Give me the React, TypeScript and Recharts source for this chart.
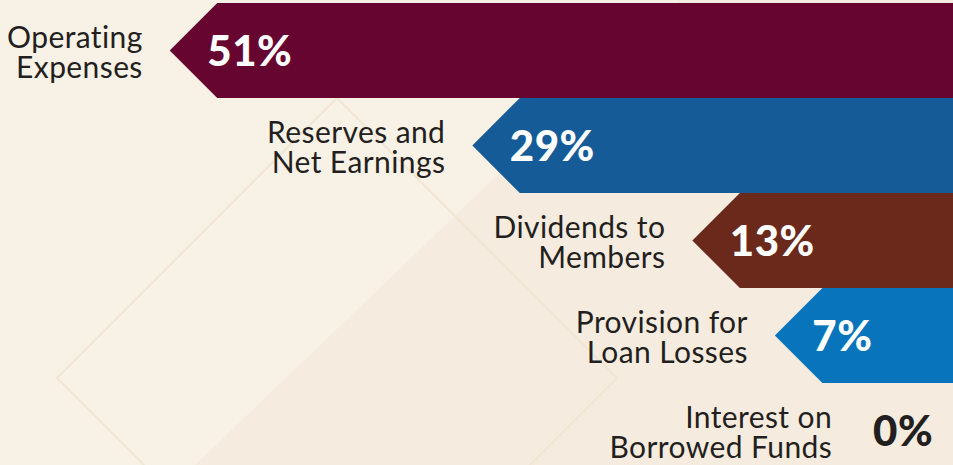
import { BarChart, Bar, XAxis, YAxis } from 'recharts';

// Where each dollar of income goes
const categories = [
  'Operating Expenses',
  'Reserves and Net Earnings',
  'Dividends to Members',
  'Provision for Loan Losses',
  'Interest on Borrowed Funds',
];
const labelLines = [
  ['Operating', 'Expenses'],
  ['Reserves and', 'Net Earnings'],
  ['Dividends to', 'Members'],
  ['Provision for', 'Loan Losses'],
  ['Interest on', 'Borrowed Funds'],
];
const shares = [51, 29, 13, 7, 0];
const barColors = ['#670531', '#155b97', '#6b291b', '#0774bc', '#0774bc'];

// axis starts a little below zero so a 0% bar still has a stub on the right
const AXIS_MIN = -2.5;
const AXIS_MAX = 66.8;

const TEXT = '#231f20';
const FONT = 'Lato, "Open Sans", sans-serif';

const data = categories.map((name, i) => ({
  name,
  lines: labelLines[i],
  share: shares[i],
  color: barColors[i],
}));

const ArrowBar = (props: any) => {
  const { x, y, width, height, payload } = props;
  const left = Math.min(x, x + width);
  const right = Math.max(x, x + width);
  const cy = y + height / 2;
  const tip = left - height / 2;
  const zero = payload.share === 0;
  const pctX = zero ? tip + 2 : left - 10;
  const labelX = zero ? tip - 39 : tip - 27;
  return (
    <g>
      {!zero && (
        <polygon
          points={`${tip},${cy} ${left},${y} ${right},${y} ${right},${y + height} ${left},${y + height}`}
          fill={payload.color}
        />
      )}
      <text
        x={pctX}
        y={cy + 15}
        fill={zero ? TEXT : '#ffffff'}
        fontSize={42}
        fontWeight={900}
        fontFamily={FONT}
        letterSpacing={0.5}
      >
        {payload.share}%
      </text>
      <text textAnchor="end" fontSize={30} fill={TEXT} fontFamily={FONT} letterSpacing={0.4}>
        <tspan x={labelX} y={cy - 3}>{payload.lines[0]}</tspan>
        <tspan x={labelX} y={cy + 27}>{payload.lines[1]}</tspan>
      </text>
    </g>
  );
};

export default function App() {
  return (
    <div
      style={{
        position: 'fixed',
        left: 0,
        top: 0,
        width: 953,
        height: 465,
        overflow: 'hidden',
        background: '#f8f1e6',
      }}
    >
      {/* faint diamond decoration behind the chart */}
      <svg width={953} height={465} style={{ position: 'absolute', left: 0, top: 0 }}>
        <polygon points="195,465 680,0 953,0 953,465" fill="#f5ecdf" />
        <polygon
          points="337,98 617,378 337,658 57,378"
          fill="none"
          stroke="#f1e6d2"
          strokeWidth={2}
        />
      </svg>
      <div style={{ position: 'absolute', left: 0, top: 0 }}>
        <BarChart
          width={953}
          height={480}
          data={data}
          layout="vertical"
          margin={{ top: 3, right: 0, bottom: 2, left: 0 }}
          barCategoryGap={0}
          barGap={0}
        >
          <XAxis type="number" hide reversed domain={[AXIS_MIN, AXIS_MAX]} allowDataOverflow />
          <YAxis type="category" dataKey="name" hide />
          <Bar
            dataKey={(d: any) => [AXIS_MIN, d.share]}
            shape={<ArrowBar />}
            isAnimationActive={false}
          />
        </BarChart>
      </div>
    </div>
  );
}
